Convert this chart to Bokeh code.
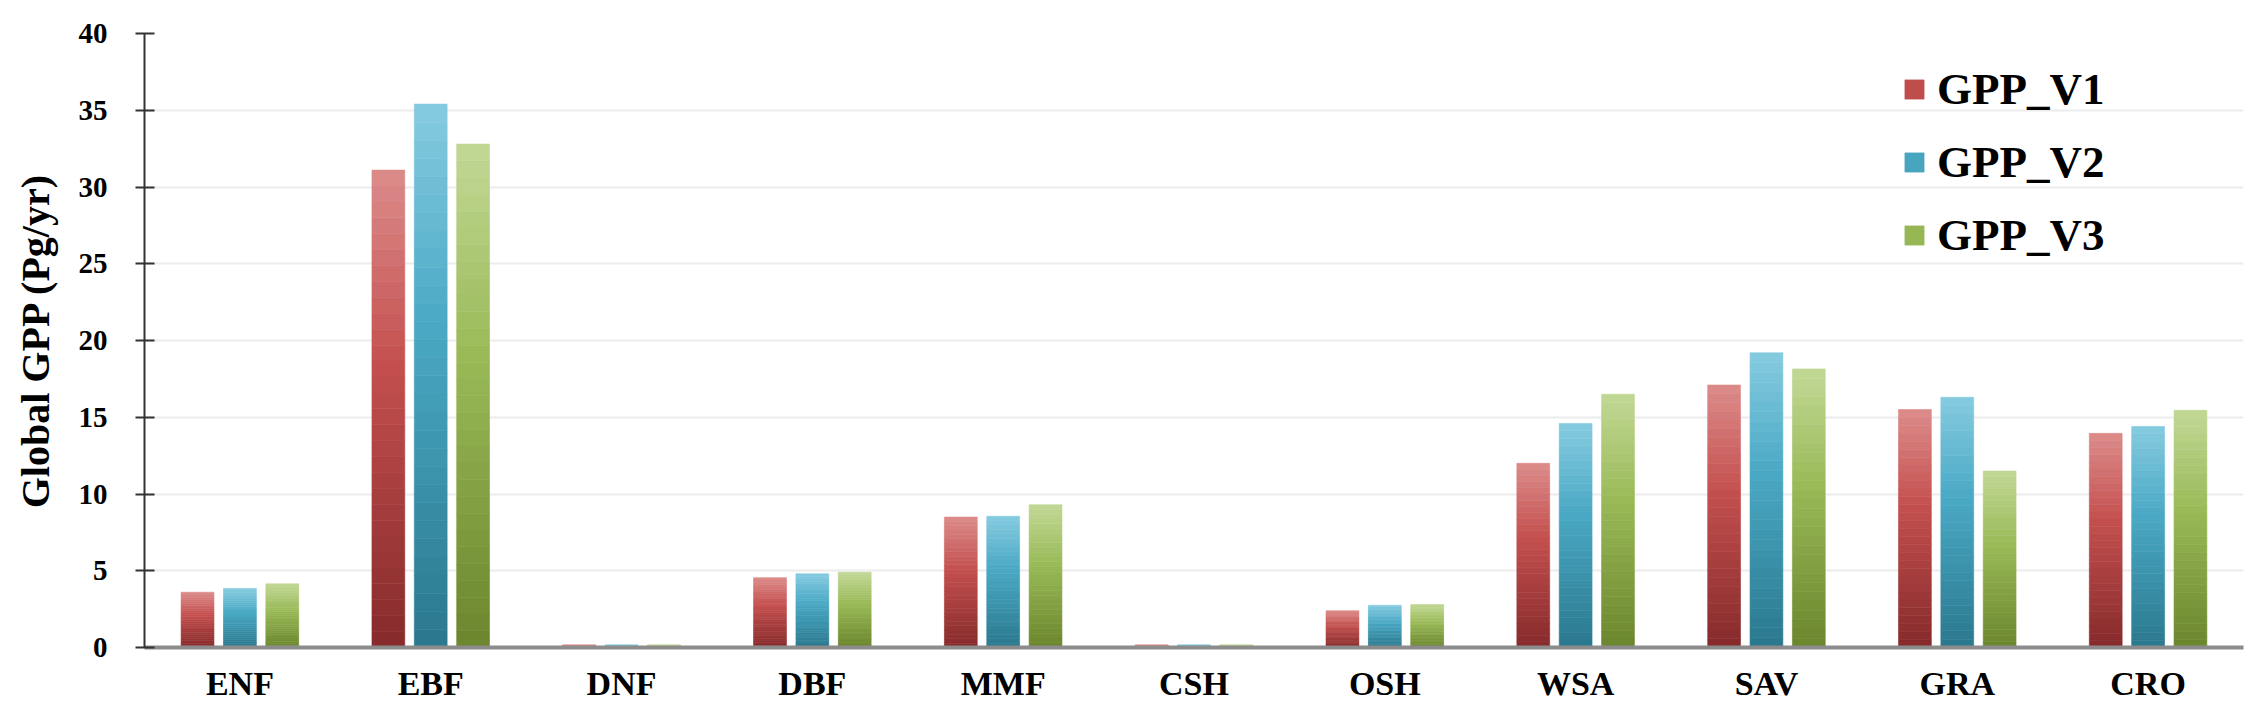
from bokeh.plotting import figure
from bokeh.models import (ColumnDataSource, FactorRange, Legend, LegendItem,
                          SingleIntervalTicker, Range1d)
from bokeh.transform import dodge
from bokeh.embed import file_html
from bokeh.resources import INLINE

# ---- data ----
categories = ["ENF", "EBF", "DNF", "DBF", "MMF", "CSH", "OSH", "WSA", "SAV", "GRA", "CRO"]
gpp_v1 = [3.6, 31.1, 0.15, 4.55, 8.5, 0.15, 2.4, 12.0, 17.1, 15.5, 13.95]
gpp_v2 = [3.85, 35.4, 0.15, 4.8, 8.55, 0.15, 2.75, 14.6, 19.2, 16.3, 14.4]
gpp_v3 = [4.15, 32.8, 0.15, 4.9, 9.3, 0.15, 2.8, 16.5, 18.15, 11.5, 15.45]
series_names = ["GPP_V1", "GPP_V2", "GPP_V3"]

# gradient stops (bottom, middle, top) per series
gradients = [
    ("#862a2b", "#c4504f", "#dc8c8b"),
    ("#2a788d", "#4aa9c5", "#86cbe0"),
    ("#6b862c", "#9bbb59", "#c2d896"),
]
offsets = [-0.222, 0.0, 0.222]
BAR_W = 0.172
N = 30
FONT = "Liberation Serif"


def hex2rgb(h):
    h = h.lstrip("#")
    return tuple(int(h[i:i + 2], 16) for i in (0, 2, 4))


def mix(a, b, t):
    ra, rb = hex2rgb(a), hex2rgb(b)
    return "#%02x%02x%02x" % tuple(int(round(ra[k] + (rb[k] - ra[k]) * t)) for k in range(3))


def grad(stops, t):
    lo, mid, hi = stops
    if t < 0.6:
        return mix(lo, mid, t / 0.6)
    return mix(mid, hi, (t - 0.6) / 0.4)


p = figure(x_range=FactorRange(*categories), y_range=Range1d(0, 40),
           width=2256, height=707, output_backend="svg", toolbar_location=None,
           min_border_left=144, min_border_right=13, min_border_top=33,
           min_border_bottom=60)
p.outline_line_color = None
p.background_fill_color = "white"
p.border_fill_color = "white"

legend_items = []
for s, vals in enumerate([gpp_v1, gpp_v2, gpp_v3]):
    xs, bots, tops, cols = [], [], [], []
    for c, v in zip(categories, vals):
        for i in range(N):
            xs.append(c)
            bots.append(v * i / N)
            tops.append(v * (i + 1) / N)
            cols.append(grad(gradients[s], (i + 0.5) / N))
    src = ColumnDataSource(dict(x=xs, bottom=bots, top=tops, color=cols))
    r = p.vbar(x=dodge("x", offsets[s], range=p.x_range), bottom="bottom", top="top",
               width=BAR_W, source=src, fill_color="color", line_color="color",
               line_width=0.6)
    legend_items.append(LegendItem(label=series_names[s], renderers=[r], index=int(N * 0.55)))

legend = Legend(items=legend_items, location=(1758, 386), padding=0, margin=0,
                spacing=21, glyph_width=24, glyph_height=24, label_standoff=11,
                label_text_font=FONT, label_text_font_style="bold",
                label_text_font_size="45px", label_text_color="black",
                background_fill_alpha=0, border_line_color=None)
p.add_layout(legend, "center")

# axes
p.yaxis.ticker = SingleIntervalTicker(interval=5)
p.yaxis.axis_label = "Global GPP (Pg/yr)"
p.yaxis.axis_label_text_font = FONT
p.yaxis.axis_label_text_font_style = "bold"
p.yaxis.axis_label_text_font_size = "40px"
p.yaxis.axis_label_text_color = "black"
p.yaxis.axis_label_standoff = 18
p.yaxis.major_label_text_font = FONT
p.yaxis.major_label_text_font_style = "bold"
p.yaxis.major_label_text_font_size = "29px"
p.yaxis.major_label_text_color = "black"
p.yaxis.major_label_standoff = 28
p.yaxis.axis_line_color = "#333333"
p.yaxis.axis_line_width = 2
p.yaxis.major_tick_line_color = "#333333"
p.yaxis.major_tick_line_width = 2
p.yaxis.major_tick_in = 10
p.yaxis.major_tick_out = 9
p.yaxis.minor_tick_line_color = None

p.xaxis.major_label_text_font = FONT
p.xaxis.major_label_text_font_style = "bold"
p.xaxis.major_label_text_font_size = "34px"
p.xaxis.major_label_text_color = "black"
p.xaxis.major_label_standoff = 17
p.xaxis.axis_line_color = "#8c8c8c"
p.xaxis.axis_line_width = 4
p.xaxis.major_tick_line_color = None
p.xaxis.major_tick_out = 0
p.xaxis.major_tick_in = 0
p.xaxis.minor_tick_line_color = None

p.xgrid.grid_line_color = None
p.ygrid.grid_line_color = "#ececec"
p.ygrid.grid_line_width = 2

open("out.html", "w").write(file_html(p, INLINE))
